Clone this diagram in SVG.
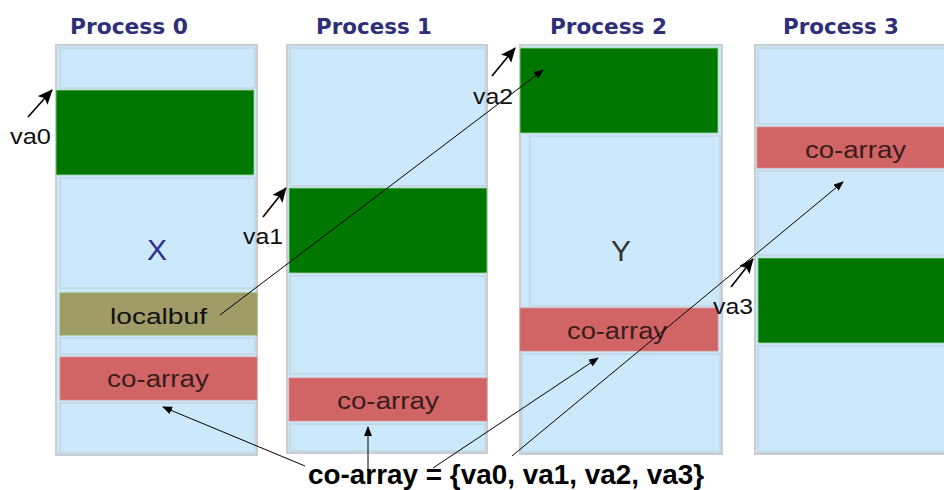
<svg xmlns="http://www.w3.org/2000/svg" width="944" height="490" viewBox="0 0 944 490">
  <style>
    .title { font-family: "DejaVu Sans", "Liberation Sans", sans-serif; font-weight: bold; font-size: 21px; fill: #2e2f78; }
    .col { fill: #cce9fb; stroke: #c8cdd2; stroke-width: 2; }
    .seg { fill: #cce9fb; stroke: #c4d4e0; stroke-width: 1.5; }
    .var { fill: #007800; stroke: #9ed89e; stroke-width: 0.8; }
    .coarr { fill: #d16565; stroke: #e08a8a; stroke-width: 0.8; }
    .buf { fill: #9f9c68; stroke: #8fb05e; stroke-width: 1; }
    .lbl { font-family: "Liberation Sans", Arial, sans-serif; font-size: 22px; fill: #111; }
    .blk { font-family: "Liberation Sans", Arial, sans-serif; font-size: 23px; fill: #3a1c1c; }
    .big { font-family: "Liberation Sans", Arial, sans-serif; font-size: 30px; text-anchor: middle; }
    .key { font-family: "Liberation Sans", Arial, sans-serif; font-weight: bold; font-size: 28px; fill: #000; }
    .ptr { stroke: #000; stroke-width: 1.6; fill: none; }
    .link { stroke: #000; stroke-width: 1; fill: none; }
  </style>
  <defs>
    <marker id="headBig" markerUnits="userSpaceOnUse" markerWidth="15" markerHeight="13" refX="14" refY="6.5" orient="auto">
      <path d="M0,0 L15,6.5 L0,13 L3,6.5 Z" fill="#000"/>
    </marker>
    <marker id="headSmall" markerUnits="userSpaceOnUse" markerWidth="10" markerHeight="8" refX="9" refY="4" orient="auto">
      <path d="M0,0 L10,4 L0,8 Z" fill="#000"/>
    </marker>
  </defs>

  <rect width="944" height="490" fill="#ffffff"/>

  <!-- Process 0 address space -->
  <g id="process0">
    <text class="title" x="70" y="34" textLength="118" lengthAdjust="spacingAndGlyphs">Process 0</text>
    <rect class="col" x="56" y="45" width="201" height="410"/>
    <rect class="seg" x="60" y="48" width="195" height="40"/>
    <rect class="var" x="56" y="90" width="198" height="85"/>
    <rect class="seg" x="60" y="178" width="195" height="110"/>
    <text class="big" x="157" y="260" fill="#2e3090">X</text>
    <rect class="buf" x="60" y="293" width="197" height="42"/>
    <text class="lbl" x="110" y="324" textLength="97" lengthAdjust="spacingAndGlyphs">localbuf</text>
    <rect class="seg" x="60" y="338" width="195" height="16"/>
    <rect class="coarr" x="60" y="357" width="197" height="43"/>
    <text class="blk" x="107" y="387" textLength="102" lengthAdjust="spacingAndGlyphs">co-array</text>
    <rect class="seg" x="60" y="403" width="195" height="50"/>
    <text class="lbl" x="10" y="144" textLength="41" lengthAdjust="spacingAndGlyphs">va0</text>
  </g>

  <!-- Process 1 address space -->
  <g id="process1">
    <text class="title" x="316" y="34" textLength="116" lengthAdjust="spacingAndGlyphs">Process 1</text>
    <rect class="col" x="287" y="45" width="200" height="408"/>
    <rect class="seg" x="290" y="48" width="195" height="138"/>
    <rect class="var" x="289" y="188" width="198" height="85"/>
    <rect class="seg" x="290" y="276" width="195" height="98"/>
    <rect class="coarr" x="289" y="378" width="198" height="43"/>
    <text class="blk" x="337" y="409" textLength="102" lengthAdjust="spacingAndGlyphs">co-array</text>
    <rect class="seg" x="290" y="424" width="195" height="27"/>
    <text class="lbl" x="243" y="244" textLength="40" lengthAdjust="spacingAndGlyphs">va1</text>
  </g>

  <!-- Process 2 address space -->
  <g id="process2">
    <text class="title" x="550" y="34" textLength="117" lengthAdjust="spacingAndGlyphs">Process 2</text>
    <rect class="col" x="520" y="45" width="202" height="409"/>
    <rect class="var" x="520" y="48" width="198" height="85"/>
    <rect class="seg" x="530" y="136" width="190" height="170"/>
    <text class="big" x="621" y="261" fill="#333">Y</text>
    <rect class="coarr" x="520" y="308" width="198" height="43"/>
    <text class="blk" x="567" y="339" textLength="100" lengthAdjust="spacingAndGlyphs">co-array</text>
    <rect class="seg" x="522" y="354" width="198" height="98"/>
    <text class="lbl" x="473" y="104" textLength="40" lengthAdjust="spacingAndGlyphs">va2</text>
  </g>

  <!-- Process 3 address space -->
  <g id="process3">
    <text class="title" x="783" y="34" textLength="116" lengthAdjust="spacingAndGlyphs">Process 3</text>
    <rect class="col" x="755" y="45" width="200" height="409"/>
    <rect class="seg" x="758" y="48" width="190" height="76"/>
    <rect class="coarr" x="757" y="127" width="190" height="41"/>
    <text class="blk" x="805" y="158" textLength="101" lengthAdjust="spacingAndGlyphs">co-array</text>
    <rect class="seg" x="758" y="171" width="190" height="84"/>
    <rect class="var" x="758" y="258" width="190" height="85"/>
    <rect class="seg" x="758" y="346" width="190" height="106"/>
    <text class="lbl" x="713" y="314" textLength="40" lengthAdjust="spacingAndGlyphs">va3</text>
  </g>

  <!-- co-array descriptor -->
  <g id="descriptor">
    <text class="key" x="308" y="484" textLength="396" lengthAdjust="spacingAndGlyphs">co-array = {va0, va1, va2, va3}</text>
  </g>

  <!-- pointers and references -->
  <g id="connectors">
    <line class="ptr" x1="28" y1="117" x2="52" y2="90" marker-end="url(#headBig)"/>
    <line class="ptr" x1="263" y1="217" x2="286" y2="188" marker-end="url(#headBig)"/>
    <line class="ptr" x1="492" y1="76" x2="515" y2="48" marker-end="url(#headBig)"/>
    <line class="ptr" x1="731" y1="287" x2="753" y2="259" marker-end="url(#headBig)"/>

    <line class="link" x1="220" y1="315" x2="543" y2="70" marker-end="url(#headSmall)"/>
    <line class="link" x1="305" y1="466" x2="163" y2="407" marker-end="url(#headSmall)"/>
    <line class="link" x1="368" y1="471" x2="368" y2="427" marker-end="url(#headSmall)"/>
    <line class="link" x1="433" y1="468" x2="598" y2="358" marker-end="url(#headSmall)"/>
    <line class="link" x1="512" y1="456" x2="843" y2="182" marker-end="url(#headSmall)"/>
  </g>
</svg>
